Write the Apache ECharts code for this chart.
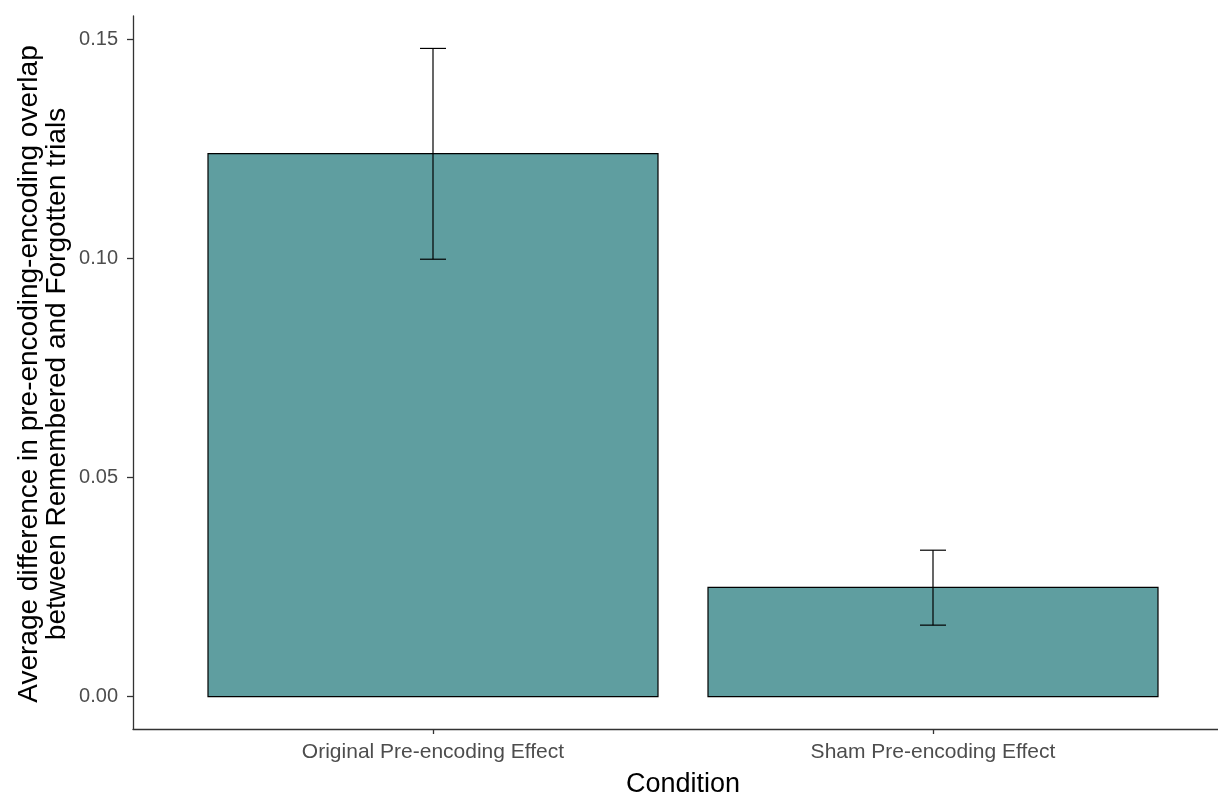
<!DOCTYPE html>
<html>
<head>
<meta charset="utf-8">
<script src="https://cdn.jsdelivr.net/npm/echarts@6/dist/echarts.min.js"></script>
<style>
  html, body { margin: 0; padding: 0; background: #ffffff; }
  #chart { width: 1218px; height: 796px; }
</style>
</head>
<body>
<div id="chart"></div>
<script>
// Conditions and their mean overlap difference with error-bar bounds
const conditions = ['Original Pre-encoding Effect', 'Sham Pre-encoding Effect'];
const meanDiff = [0.1239, 0.0249];
const errLower = [0.0998, 0.0163];
const errUpper = [0.1479, 0.0334];
const yTicks = [0, 0.05, 0.10, 0.15];

const xTitle = 'Condition';
const yTitleLines = [
  'Average difference in pre-encoding-encoding overlap',
  'between Remembered and Forgotten trials'
];

// Categories sit at 1, 2 on a continuous scale; the panel starts 0.6 before the first
// and runs off the right edge of the canvas
const xPos = conditions.map((c, i) => i + 1);
const barHalf = 0.45;
const capHalf = 0.026;

const FONT = '"Liberation Sans", Arial, sans-serif';

const chart = echarts.init(document.getElementById('chart'), null, { renderer: 'canvas' });

const barData = xPos.map((x, i) => [x, meanDiff[i]]);
const errData = xPos.map((x, i) => [x, errLower[i], errUpper[i]]);

chart.setOption({
  animation: false,
  backgroundColor: '#ffffff',
  grid: { left: 133, top: 16, right: 0, bottom: 67, containLabel: false },
  xAxis: {
    type: 'value',
    min: 0.4,
    max: 2.57,
    splitLine: { show: false },
    axisLine: { show: true, onZero: false, lineStyle: { color: '#333333', width: 1.3 } },
    axisTick: { show: true, customValues: xPos, length: 5, lineStyle: { color: '#333333', width: 1.3 } },
    axisLabel: {
      customValues: xPos,
      formatter: v => conditions[Math.round(v) - 1] || '',
      color: '#4d4d4d',
      fontFamily: FONT,
      fontSize: 21,
      margin: 13
    }
  },
  yAxis: {
    type: 'value',
    min: -0.0074,
    max: 0.1553,
    splitLine: { show: false },
    axisLine: { show: true, onZero: false, lineStyle: { color: '#333333', width: 1.3 } },
    axisTick: { show: true, customValues: yTicks, length: 6, lineStyle: { color: '#333333', width: 1.3 } },
    axisLabel: {
      customValues: yTicks,
      formatter: v => v.toFixed(2),
      color: '#4d4d4d',
      fontFamily: FONT,
      fontSize: 20,
      margin: 15
    }
  },
  series: [
    {
      name: 'Mean difference',
      type: 'custom',
      data: barData,
      renderItem: (params, api) => {
        const x = api.value(0);
        const y = api.value(1);
        const tl = api.coord([x - barHalf, y]);
        const br = api.coord([x + barHalf, 0]);
        return {
          type: 'rect',
          shape: { x: tl[0], y: tl[1], width: br[0] - tl[0], height: br[1] - tl[1] },
          style: { fill: '#5f9ea0', stroke: '#000000', lineWidth: 1.2 }
        };
      },
      z: 2
    },
    {
      name: 'Error bars',
      type: 'custom',
      data: errData,
      renderItem: (params, api) => {
        const x = api.value(0);
        const lo = api.coord([x, api.value(1)]);
        const hi = api.coord([x, api.value(2)]);
        const l = api.coord([x - capHalf, 0])[0];
        const r = api.coord([x + capHalf, 0])[0];
        const st = { stroke: '#000000', lineWidth: 1.2, fill: null };
        return {
          type: 'group',
          children: [
            { type: 'line', shape: { x1: lo[0], y1: lo[1], x2: hi[0], y2: hi[1] }, style: st },
            { type: 'line', shape: { x1: l, y1: hi[1], x2: r, y2: hi[1] }, style: st },
            { type: 'line', shape: { x1: l, y1: lo[1], x2: r, y2: lo[1] }, style: st }
          ]
        };
      },
      z: 3
    }
  ],
  graphic: [
    {
      type: 'text',
      x: 683,
      y: 785,
      style: {
        text: xTitle,
        font: '27px ' + FONT,
        fill: '#000000',
        align: 'center',
        verticalAlign: 'middle'
      }
    },
    {
      type: 'text',
      x: 43,
      y: 374,
      rotation: Math.PI / 2,
      style: {
        text: yTitleLines.join('\n'),
        font: '28px ' + FONT,
        lineHeight: 28,
        fill: '#000000',
        align: 'center',
        verticalAlign: 'middle'
      }
    }
  ]
});
</script>
</body>
</html>
